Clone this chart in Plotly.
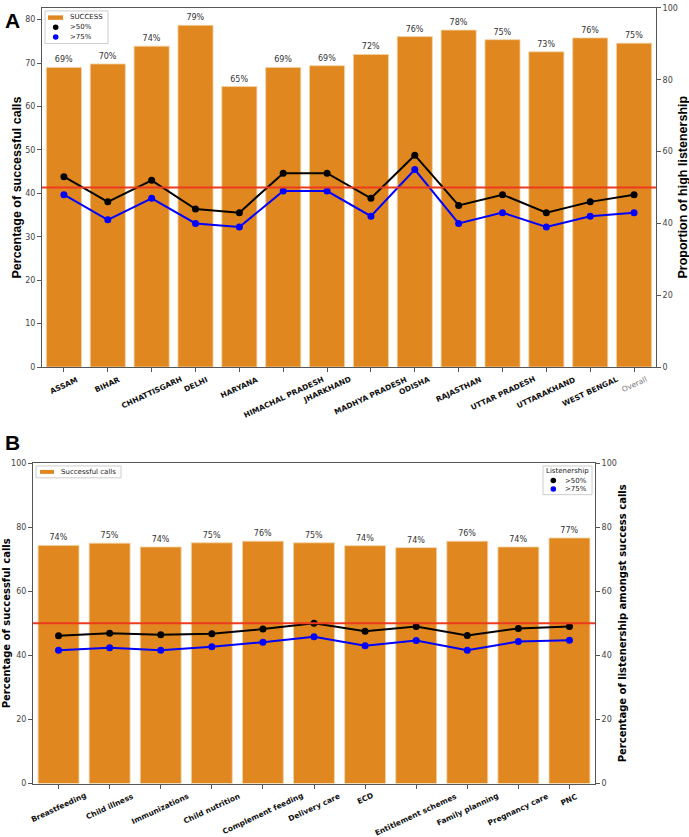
import plotly.graph_objects as go

STATES = ["ASSAM", "BIHAR", "CHHATTISGARH", "DELHI", "HARYANA", "HIMACHAL PRADESH",
          "JHARKHAND", "MADHYA PRADESH", "ODISHA", "RAJASTHAN", "UTTAR PRADESH",
          "UTTARAKHAND", "WEST BENGAL", "Overall"]
STATE_SUCCESS = [69.0, 69.8, 73.9, 78.7, 64.6, 69.0, 69.4, 72.0, 76.1, 77.6, 75.4, 72.6, 75.8, 74.6]
STATE_OVER_50 = [53, 46, 52, 44, 43, 54, 54, 47, 59, 45, 48, 43, 46, 48]
STATE_OVER_75 = [48, 41, 47, 40, 39, 49, 49, 42, 55, 40, 43, 39, 42, 43]

TOPICS = ["Breastfeeding", "Child illness", "Immunizations", "Child nutrition",
          "Complement feeding", "Delivery care", "ECD", "Entitlement schemes",
          "Family planning", "Pregnancy care", "PNC"]
TOPIC_SUCCESS = [74.3, 75.0, 73.8, 75.1, 75.6, 75.1, 74.2, 73.6, 75.6, 73.8, 76.6]
TOPIC_OVER_50 = [46.1, 46.9, 46.4, 46.7, 48.2, 50.0, 47.5, 49.0, 46.2, 48.4, 49.0]
TOPIC_OVER_75 = [41.6, 42.4, 41.6, 42.7, 44.1, 45.8, 43.0, 44.6, 41.6, 44.3, 44.7]

THRESHOLD = 50

_BAR = "#E0881F"
_EDGE = "#F2D3A6"
_SPINE = "#555555"
_TICK = "#444444"
_RED = "#EE3A1E"
_FONT = "DejaVu Sans"
_SANS = "Liberation Sans"

W, H = 689, 837


def px(x):
    return x / W


def py(y):
    return 1 - y / H


A_X = [px(42), px(656)]
A_Y = [py(367), py(4)]
B_X = [px(33), px(595)]
B_Y = [py(788), py(464)]

fig = go.Figure()


def add_panel(cats, success, over50, over75, xa, ya_left, ya_right):
    fig.add_trace(go.Bar(
        x=cats, y=success, xaxis=xa, yaxis=ya_left, showlegend=False,
        width=0.8, marker={"color": _BAR, "line": {"color": _EDGE, "width": 0.8}},
        texttemplate="%{y:.0f}%", textposition="outside", cliponaxis=False,
        textfont={"size": 8, "color": "#333333", "family": _FONT},
    ))
    for vals, col in [(over50, "black"), (over75, "blue")]:
        fig.add_trace(go.Scatter(
            x=cats, y=vals, xaxis=xa, yaxis=ya_right, mode="lines+markers",
            line={"color": col, "width": 2}, marker={"color": col, "size": 7},
            showlegend=False,
        ))


add_panel(STATES, STATE_SUCCESS, STATE_OVER_50, STATE_OVER_75, "x", "y", "y2")
add_panel(TOPICS, TOPIC_SUCCESS, TOPIC_OVER_50, TOPIC_OVER_75, "x2", "y3", "y4")

# threshold lines on the right-hand axes
for xref, yref in [("x domain", "y2"), ("x2 domain", "y4")]:
    fig.add_shape(type="line", xref=xref, yref=yref, x0=0, x1=1, y0=THRESHOLD, y1=THRESHOLD,
                  line={"color": _RED, "width": 2}, layer="above")

# rotated, centre-aligned category labels (matplotlib style)
for cats, xref, ybase in [(STATES, "x", A_Y[0]), (TOPICS, "x2", B_Y[0])]:
    for c in cats:
        if c == "Overall":
            txt, col = c, "#777777"
        else:
            txt, col = f"<b>{c}</b>", "#111111"
        fig.add_annotation(
            x=c, xref=xref, y=ybase, yref="paper", yshift=-5, text=txt, showarrow=False,
            textangle=-25, xanchor="center", yanchor="top",
            font={"size": 7.5, "color": col, "family": _FONT},
        )

# panel letters
for label, yc in [("A", 17), ("B", 443)]:
    fig.add_annotation(x=px(3), y=py(yc), xref="paper", yref="paper", text=f"<b>{label}</b>",
                       showarrow=False, xanchor="left", yanchor="middle",
                       font={"size": 21, "color": "black", "family": _SANS})

# axis titles
titles = [
    ("Percentage of successful calls", 17, (4 + 367) / 2, 12.5, _SANS),
    ("Proportion of high listenership", 683, (4 + 367) / 2, 12.5, _SANS),
    ("Percentage of successful calls", 6, (464 + 788) / 2, 10, _FONT),
    ("Percentage of listenership amongst success calls", 622, (464 + 788) / 2, 10, _FONT),
]
for text, x, y, size, fam in titles:
    fig.add_annotation(x=px(x), y=py(y), xref="paper", yref="paper", text=f"<b>{text}</b>",
                       showarrow=False, textangle=-90, xanchor="center", yanchor="middle",
                       font={"size": size, "color": "black", "family": fam})


# hand-drawn legends in the matplotlib style
def legend_box(x0, y0, x1, y1):
    fig.add_shape(type="rect", xref="paper", yref="paper", x0=px(x0), x1=px(x1),
                  y0=py(y1), y1=py(y0), fillcolor="white", line={"color": "#cccccc", "width": 1},
                  layer="above")


def legend_patch(x0, y0, x1, y1):
    fig.add_shape(type="rect", xref="paper", yref="paper", x0=px(x0), x1=px(x1),
                  y0=py(y1), y1=py(y0), fillcolor=_BAR, line={"width": 0}, layer="above")


def legend_dot(cx, cy, col, r=2.8):
    fig.add_shape(type="circle", xref="paper", yref="paper", x0=px(cx - r), x1=px(cx + r),
                  y0=py(cy + r), y1=py(cy - r), fillcolor=col, line={"width": 0}, layer="above")


def legend_text(x, y, text, anchor="left"):
    fig.add_annotation(x=px(x), y=py(y), xref="paper", yref="paper", text=text, showarrow=False,
                       xanchor=anchor, yanchor="middle",
                       font={"size": 7, "color": "#222222", "family": _FONT})


legend_box(45, 7, 108, 40)
legend_patch(48, 11.5, 63, 16)
legend_text(68, 13.5, "SUCCESS")
legend_dot(55.7, 23.5, "black")
legend_text(68, 23.5, "&gt;50%")
legend_dot(55.7, 33.3, "blue")
legend_text(68, 33.3, "&gt;75%")

legend_box(36, 467, 121, 479)
legend_patch(40, 471, 54, 475)
legend_text(59, 473, "Successful calls")

legend_box(543, 467, 592, 496)
legend_text(567.5, 472.5, "Listenership", anchor="center")
legend_dot(553.3, 481.7, "black")
legend_text(589, 481.7, "&gt;50%", anchor="right")
legend_dot(553.3, 490.3, "blue")
legend_text(589, 490.3, "&gt;75%", anchor="right")

axis_common = dict(showline=True, linecolor=_SPINE, linewidth=1, ticks="outside", ticklen=4,
                   tickcolor=_SPINE, tickfont={"size": 8, "color": _TICK, "family": _FONT},
                   showgrid=False, zeroline=False)

fig.update_layout(
    width=W, height=H, margin={"l": 0, "r": 0, "t": 0, "b": 0},
    paper_bgcolor="white", plot_bgcolor="white", showlegend=False,
    font={"family": _FONT},
    xaxis=dict(axis_common, domain=A_X, anchor="y", range=[-0.5, 13.5], showticklabels=False,
               mirror=True),
    yaxis=dict(axis_common, domain=A_Y, anchor="x", range=[0, 82.7], dtick=10),
    yaxis2=dict(axis_common, overlaying="y", side="right", anchor="x", range=[0, 100], dtick=20),
    xaxis2=dict(axis_common, domain=B_X, anchor="y3", range=[-0.5, 10.5], showticklabels=False,
                mirror=True),
    yaxis3=dict(axis_common, domain=B_Y, anchor="x2", range=[0, 100], dtick=20),
    yaxis4=dict(axis_common, overlaying="y3", side="right", anchor="x2", range=[0, 100], dtick=20),
)

fig.write_html("out.html", config={"displayModeBar": False},
               post_script="document.body.style.margin='0';")
